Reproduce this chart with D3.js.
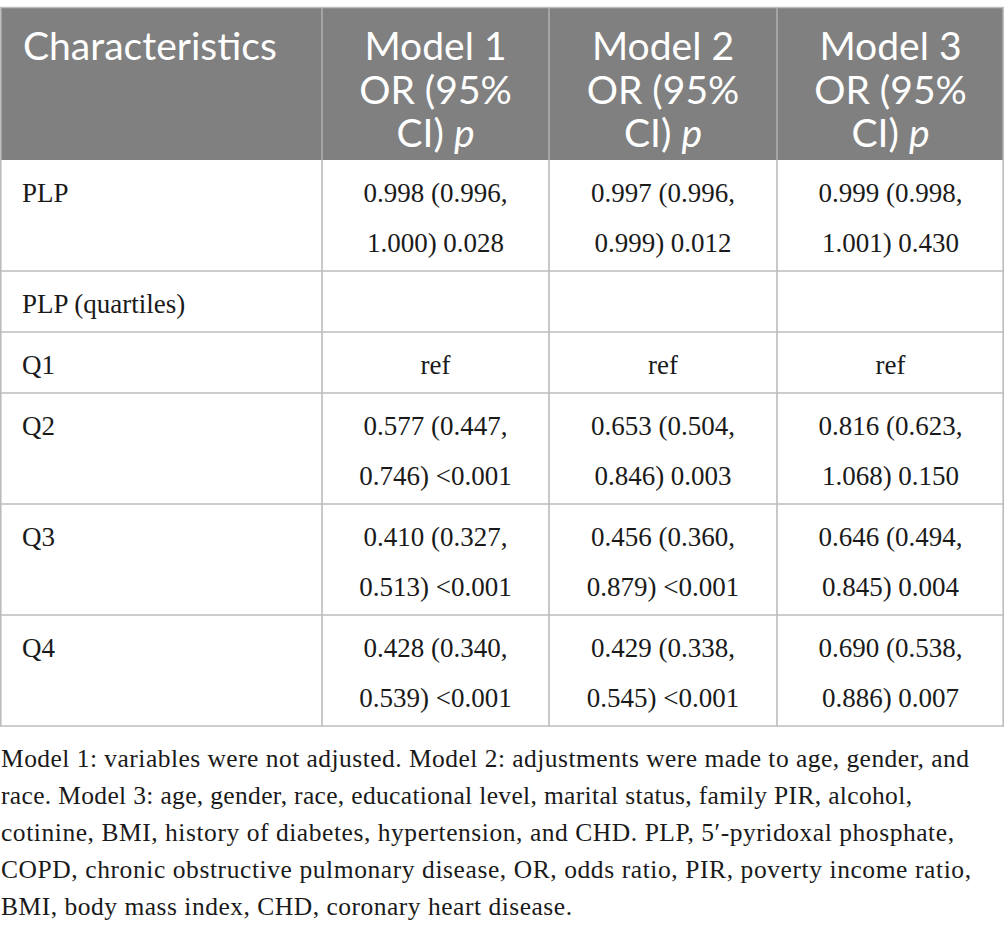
<!DOCTYPE html>
<html>
<head>
<meta charset="utf-8">
<script src="https://cdn.jsdelivr.net/npm/d3@7"></script>
<style>
  body { margin: 0; background: #fff; }
  svg { display: block; }
</style>
</head>
<body>
<div id="chart"></div>
<script>
// table content
var headers = [
  ["Characteristics"],
  ["Model 1", "OR (95%", "CI) |p|"],
  ["Model 2", "OR (95%", "CI) |p|"],
  ["Model 3", "OR (95%", "CI) |p|"]
];
var rowLabels = ["PLP", "PLP (quartiles)", "Q1", "Q2", "Q3", "Q4"];
var model1 = [["0.998 (0.996,", "1.000) 0.028"], [], ["ref"], ["0.577 (0.447,", "0.746) <0.001"], ["0.410 (0.327,", "0.513) <0.001"], ["0.428 (0.340,", "0.539) <0.001"]];
var model2 = [["0.997 (0.996,", "0.999) 0.012"], [], ["ref"], ["0.653 (0.504,", "0.846) 0.003"], ["0.456 (0.360,", "0.879) <0.001"], ["0.429 (0.338,", "0.545) <0.001"]];
var model3 = [["0.999 (0.998,", "1.001) 0.430"], [], ["ref"], ["0.816 (0.623,", "1.068) 0.150"], ["0.646 (0.494,", "0.845) 0.004"], ["0.690 (0.538,", "0.886) 0.007"]];
var footnote = [
  "Model 1: variables were not adjusted. Model 2: adjustments were made to age, gender, and",
  "race. Model 3: age, gender, race, educational level, marital status, family PIR, alcohol,",
  "cotinine, BMI, history of diabetes, hypertension, and CHD. PLP, 5\u2032-pyridoxal phosphate,",
  "COPD, chronic obstructive pulmonary disease, OR, odds ratio, PIR, poverty income ratio,",
  "BMI, body mass index, CHD, coronary heart disease."
];

var W = 1004, H = 935;
var top0 = 8, headH = 152, lineH = 50, rowPad = 11;
var colEdges = [0, 322, 549, 777, 1004];
var lineColor = "#bcbcbd";
var footWidths = [969, 912, 954, 971, 572]; // line ends in the reference

var svg = d3.select("#chart").append("svg").attr("width", W).attr("height", H);

var models = [model1, model2, model3];
var rows = rowLabels.map(function (lab, i) {
  var cells = [[lab]].concat(models.map(function (m) { return m[i]; }));
  var n = d3.max(cells, function (c) { return c.length; });
  return { cells: cells, lines: n };
});

// row heights -> y scale of cumulative edges
var rowH = rows.map(function (r) { return r.lines * lineH + rowPad; });
var yEdges = [top0 + headH];
rowH.forEach(function (h, i) { yEdges.push(yEdges[i] + h); });
var y = d3.scaleOrdinal().domain(d3.range(rows.length + 1)).range(yEdges);
var x = d3.scaleOrdinal().domain(d3.range(colEdges.length)).range(colEdges);
var xc = function (i) { return (x(i) + x(i + 1)) / 2; };

// header block
svg.append("rect")
  .attr("x", 0).attr("y", top0).attr("width", W).attr("height", headH)
  .attr("fill", "#808080");

var hg = svg.append("g").attr("font-family", "Lato, 'Noto Sans', sans-serif")
  .attr("font-size", 36).attr("fill", "#fff");
headers.forEach(function (lines, c) {
  lines.forEach(function (ln, k) {
    var t = hg.append("text")
      .attr("x", c === 0 ? 23 : xc(c))
      .attr("y", top0 + 52 + k * 43.5)
      .attr("text-anchor", c === 0 ? "start" : "middle");
    ln.split("|").forEach(function (part, j) {
      if (part === "") return;
      t.append("tspan").text(part).attr("font-style", j % 2 ? "italic" : null);
    });
  });
});
// size header type so "Characteristics" spans the reference width
var chW = hg.select("text").node().getComputedTextLength();
hg.attr("font-size", 36 * 254 / chW);

// grid lines
var grid = svg.append("g").attr("stroke", lineColor).attr("stroke-width", 1.6);
grid.append("line").attr("x1", 0).attr("x2", W).attr("y1", top0 - 0.5).attr("y2", top0 - 0.5);
d3.range(1, rows.length + 1).forEach(function (i) {
  grid.append("line").attr("x1", 0).attr("x2", W).attr("y1", y(i)).attr("y2", y(i));
});
colEdges.forEach(function (cx, i) {
  var xx = i === 0 ? 0.8 : (i === colEdges.length - 1 ? W - 0.8 : cx);
  grid.append("line").attr("x1", xx).attr("x2", xx)
    .attr("y1", top0)
    .attr("y2", y(rows.length));
});
// header dividers lighter on gray
svg.append("g").attr("stroke", "#a3a3a3").attr("stroke-width", 1.6)
  .selectAll("line").data(colEdges.slice(1, -1)).enter().append("line")
  .attr("x1", function (d) { return d; }).attr("x2", function (d) { return d; })
  .attr("y1", top0).attr("y2", top0 + headH);

// body text
var bg = svg.append("g").attr("font-family", "'Liberation Serif', 'Times New Roman', serif")
  .attr("font-size", 27).attr("fill", "#1a1a1a");
rows.forEach(function (r, i) {
  r.cells.forEach(function (cell, c) {
    cell.forEach(function (ln, k) {
      bg.append("text")
        .attr("x", c === 0 ? 22 : xc(c))
        .attr("y", y(i) + 42 + k * lineH)
        .attr("text-anchor", c === 0 ? "start" : "middle")
        .text(ln);
    });
  });
});

// footnote
var fg = svg.append("g").attr("font-family", "'Liberation Serif', 'Times New Roman', serif")
  .attr("font-size", 25.5).attr("fill", "#1a1a1a");
fg.selectAll("text").data(footnote).enter().append("text")
  .attr("x", 1)
  .attr("y", function (d, i) { return 767 + i * 37; })
  .attr("textLength", function (d, i) { return footWidths[i] - 1; })
  .attr("lengthAdjust", "spacing")
  .text(function (d) { return d; });
</script>
</body>
</html>
